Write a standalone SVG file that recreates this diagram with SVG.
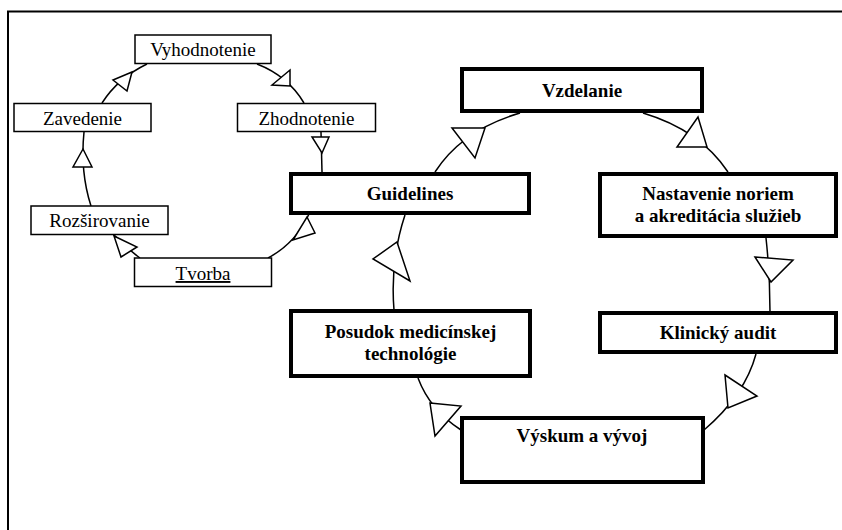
<svg xmlns="http://www.w3.org/2000/svg" width="842" height="530" viewBox="0 0 842 530">
<style>
.thin{fill:#fff;stroke:#000;stroke-width:1.5}
.thick{fill:#fff;stroke:#000;stroke-width:4}
.t{font-size:19px;fill:#000;text-anchor:middle}
.b{font-weight:bold}
.c{fill:none;stroke:#000;stroke-width:1.5}
.ah{fill:#fff;stroke:#000;stroke-width:1.5;stroke-linejoin:miter}
</style>
<rect x="0" y="0" width="842" height="530" fill="#fff"/>
<rect x="8" y="11.5" width="900" height="600" fill="none" stroke="#000" stroke-width="2"/>
<g id="connectors">
<path class="c" d="M140,258 Q126,248 114,235"/>
<path class="c" d="M91,206 Q80,172 84,132"/>
<path class="c" d="M102,103 Q118,78 147,64"/>
<path class="c" d="M257,64 Q288,76 304,103"/>
<path class="c" d="M321,132 L322,172"/>
<path class="c" d="M268,258 Q296,243 309,214"/>
<path class="c" d="M435,172 Q462,130 520,113"/>
<path class="c" d="M643,113 Q700,130 728,172"/>
<path class="c" d="M766,238 Q770,275 770,312"/>
<path class="c" d="M756,354 Q745,395 704,430"/>
<path class="c" d="M461,430 Q430,410 418,378"/>
<path class="c" d="M405,215 Q390,260 394,310"/>
<polygon class="ah" points="114,236 137,247 121,257"/>
<polygon class="ah" points="83,149 73,167 92,167"/>
<polygon class="ah" points="132,72 113,80 127,91"/>
<polygon class="ah" points="290,70 272,85 290,86"/>
<polygon class="ah" points="312,137 329,137 322,153"/>
<polygon class="ah" points="307,217 315,233 293,240"/>
<polygon class="ah" points="452,128 485,128 475,158"/>
<polygon class="ah" points="698,117 707,147 677,147"/>
<polygon class="ah" points="755,257 793,260 771,282"/>
<polygon class="ah" points="725,375 757,396 728,408"/>
<polygon class="ah" points="430,403 461,406 435,436"/>
<polygon class="ah" points="397,242 410,281 373,259"/>
</g>
<g font-family="'Liberation Serif', 'DejaVu Serif', serif">
<g id="vyhodnotenie"><rect class="thin" x="135" y="35" width="136" height="28.5"/><text class="t" x="203" y="56">Vyhodnotenie</text></g>
<g id="zavedenie"><rect class="thin" x="14" y="103.5" width="137" height="28"/><text class="t" x="82.5" y="125">Zavedenie</text></g>
<g id="zhodnotenie"><rect class="thin" x="237.5" y="103.5" width="138" height="28"/><text class="t" x="306.5" y="125">Zhodnotenie</text></g>
<g id="rozsirovanie"><rect class="thin" x="31" y="206" width="137" height="28.5"/><text class="t" x="99.5" y="227">Rozširovanie</text></g>
<g id="tvorba"><rect class="thin" x="134.5" y="258" width="137" height="28.5"/><text class="t" x="203" y="280" text-decoration="underline">Tvorba</text></g>
<g id="guidelines"><rect class="thick" x="291" y="174" width="238" height="39"/><text class="t b" x="410" y="200">Guidelines</text></g>
<g id="vzdelanie"><rect class="thick" x="462" y="69" width="240" height="42"/><text class="t b" x="582" y="97">Vzdelanie</text></g>
<g id="nastavenie"><rect class="thick" x="600" y="174" width="236" height="62"/><text class="t b" x="718" y="200">Nastavenie noriem</text><text class="t b" x="718" y="222">a akreditácia služieb</text></g>
<g id="klinicky"><rect class="thick" x="600" y="313" width="236" height="39"/><text class="t b" x="718" y="339">Klinický audit</text></g>
<g id="posudok"><rect class="thick" x="291" y="311" width="239" height="65"/><text class="t b" x="410.5" y="338">Posudok medicínskej</text><text class="t b" x="410.5" y="360">technológie</text></g>
<g id="vyskum"><rect class="thick" x="462" y="418" width="241" height="64"/><text class="t b" x="582" y="442">Výskum a vývoj</text></g>
</g>
</svg>
